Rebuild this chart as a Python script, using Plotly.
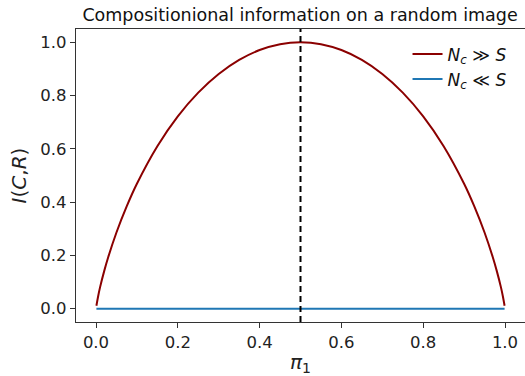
import plotly.graph_objects as go

# Values
pi1 = [0.001, 0.005, 0.01, 0.02, 0.03, 0.05, 0.075, 0.1, 0.15, 0.2, 0.25, 0.3, 0.35, 0.4, 0.45, 0.5,
       0.55, 0.6, 0.65, 0.7, 0.75, 0.8, 0.85, 0.9, 0.925, 0.95, 0.97, 0.98, 0.99, 0.995, 0.999]
info_large = [0.011, 0.045, 0.081, 0.141, 0.194, 0.286, 0.384, 0.469, 0.610, 0.722, 0.811, 0.881, 0.934, 0.971, 0.993, 1.0,
              0.993, 0.971, 0.934, 0.881, 0.811, 0.722, 0.610, 0.469, 0.384, 0.286, 0.194, 0.141, 0.081, 0.045, 0.011]
info_small = [0.0 for _ in pi1]
split_value = 0.5

xticks = [0.0, 0.2, 0.4, 0.6, 0.8, 1.0]
yticks = [0.0, 0.2, 0.4, 0.6, 0.8, 1.0]

font = "DejaVu Sans"
fig = go.Figure()
fig.add_trace(go.Scatter(x=pi1, y=info_large, mode="lines", line=dict(color="#8b0000", width=2, shape="spline"),
                         name="<i>N</i><sub><i>c</i></sub> ≫ <i>S</i>"))
fig.add_trace(go.Scatter(x=pi1, y=info_small, mode="lines", line=dict(color="#1f77b4", width=2),
                         name="<i>N</i><sub><i>c</i></sub> ≪ <i>S</i>"))
fig.add_shape(type="line", x0=split_value, x1=split_value, xref="x", y0=0, y1=1, yref="paper",
              line=dict(color="black", width=2, dash="6px,4px"))

fig.update_layout(
    width=525, height=376,
    margin=dict(l=76, r=0, t=29, b=54),
    paper_bgcolor="white", plot_bgcolor="white",
    font=dict(family=font, size=16.5, color="#222"),
    title=dict(text="Compositionional information on a random image", x=0.5715, xanchor="center",
               y=1 - 15/376, yanchor="middle", font=dict(size=17.5, color="#111")),
    showlegend=True,
    legend=dict(x=0.97, y=0.975, xanchor="right", yanchor="top", bgcolor="rgba(0,0,0,0)",
                font=dict(size=17, color="#111"), tracegroupgap=0),
    xaxis=dict(range=[-0.0489, 1.0489], tickvals=xticks, ticktext=[f"{v:.1f}" for v in xticks],
               showgrid=False, zeroline=False, showline=True, linecolor="#333", linewidth=1.3, mirror=True,
               ticks="outside", ticklen=5, tickcolor="#333",
               title=dict(text="<i>π</i><sub>1</sub>", font=dict(size=20), standoff=6)),
    yaxis=dict(range=[-0.05, 1.05], tickvals=yticks, ticktext=[f"{v:.1f}" for v in yticks],
               showgrid=False, zeroline=False, showline=True, linecolor="#333", linewidth=1.3,
               ticks="outside", ticklen=5, tickcolor="#333",
               title=dict(text="<i>I</i>(<i>C</i>,<i>R</i>)", font=dict(size=20), standoff=8)),
)
fig.write_html("out.html")
